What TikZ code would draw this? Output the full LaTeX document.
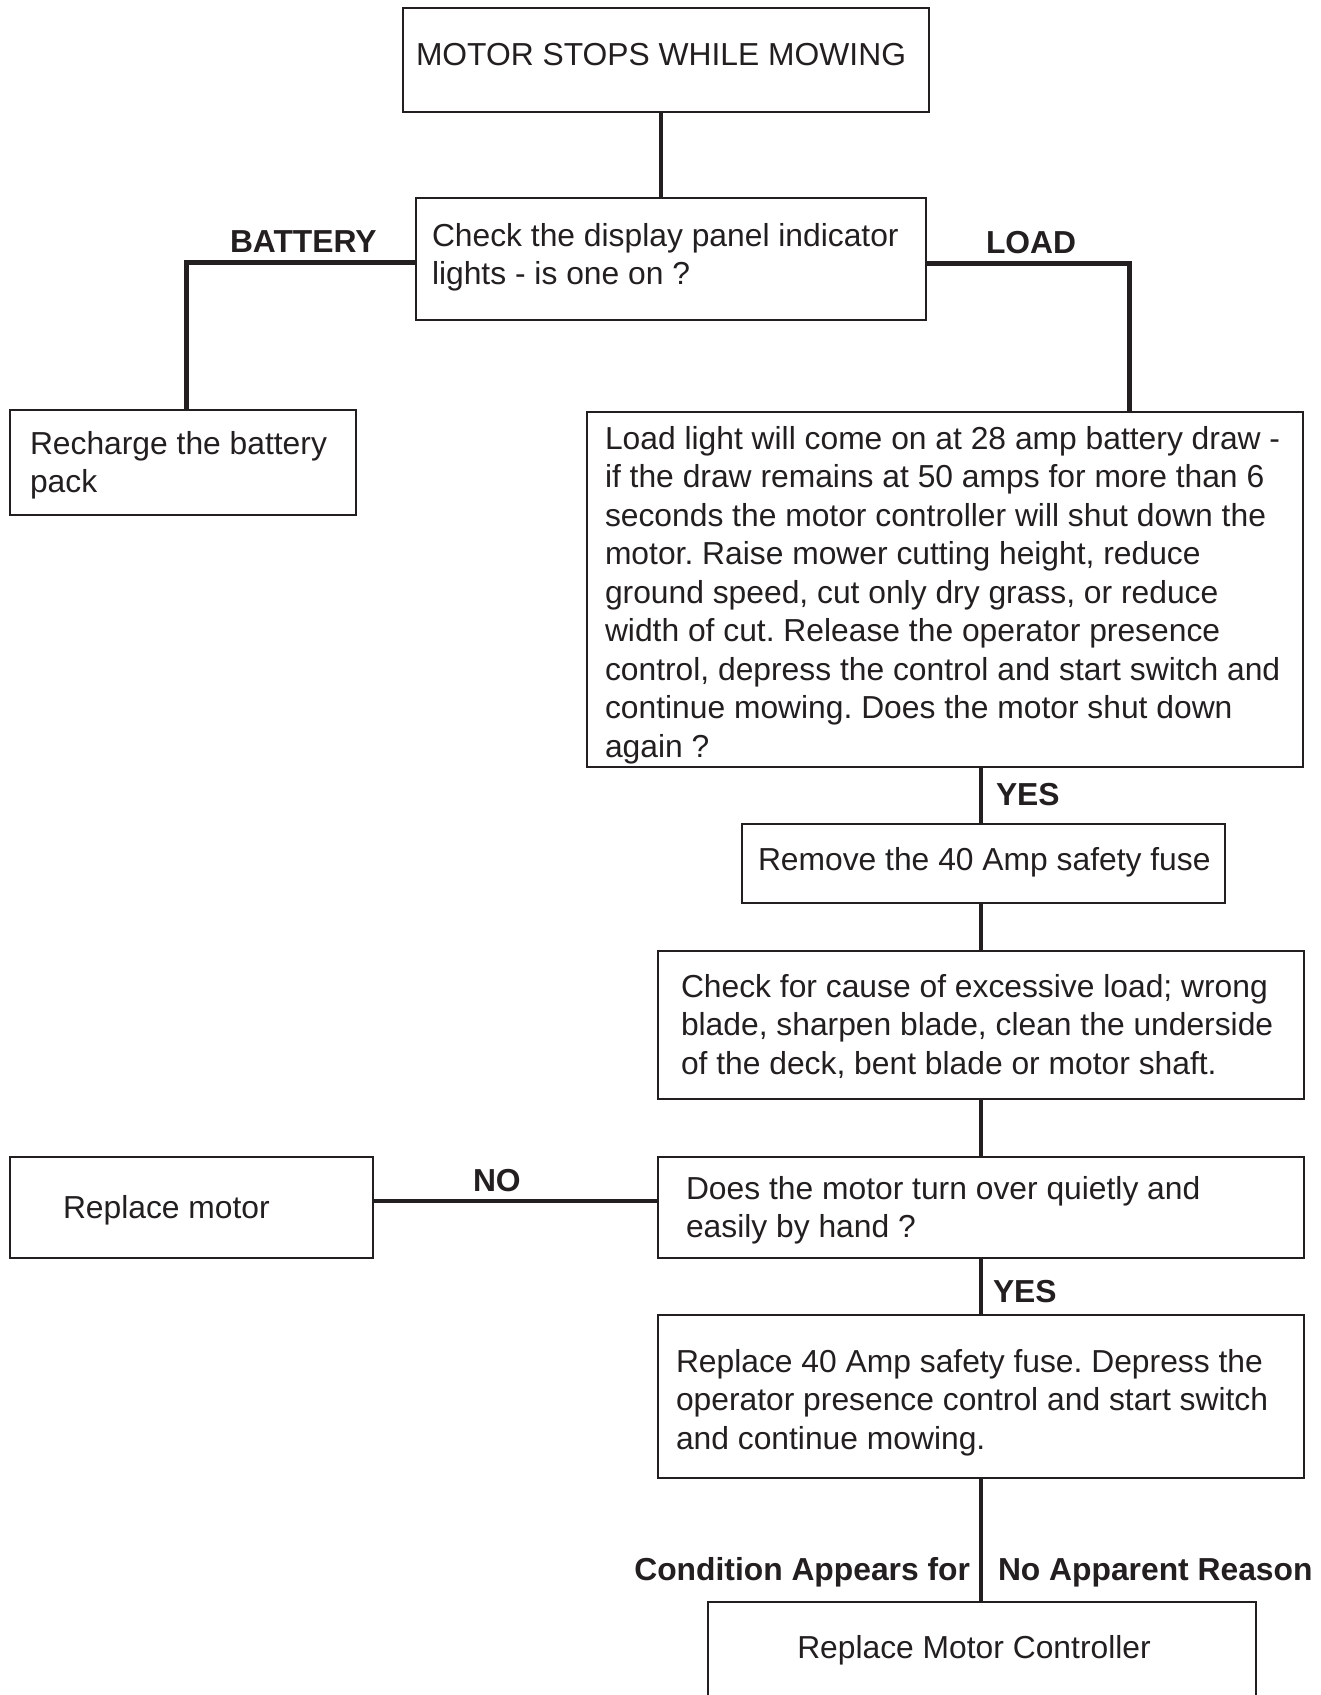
\documentclass[tikz,border=0pt]{standalone}
\usepackage{fontspec}
\setmainfont{Liberation Sans}
\frenchspacing
\newcommand\mlines[1]{\begin{tabular}[t]{@{}l@{}}#1\end{tabular}}
\definecolor{ink}{HTML}{231F20}
\begin{document}
\begin{tikzpicture}[x=1pt,y=-1pt,
  box/.style={draw=ink, line width=2pt, rectangle, inner sep=0pt, outer sep=0pt, anchor=north west},
  txt/.style={anchor=base west, inner sep=0pt, outer sep=0pt, text=ink, font=\frenchspacing\fontsize{31.8}{38.5}\selectfont},
  lbl/.style={anchor=base west, inner sep=0pt, outer sep=0pt, text=ink, font=\bfseries\fontsize{31.8}{38.5}\selectfont},
  link/.style={draw=ink, line width=4pt},
  branch/.style={draw=ink, line width=5pt}]
\useasboundingbox[fill=white] (0,0) rectangle (1321,1695);

% boxes
\node[box, minimum width=526pt, minimum height=104pt] (top) at (403,8) {};
\node[box, minimum width=510pt, minimum height=122pt] (check) at (416,198) {};
\node[box, minimum width=346pt, minimum height=105pt] (recharge) at (10,410) {};
\node[box, minimum width=716pt, minimum height=355pt] (load) at (587,412) {};
\node[box, minimum width=483pt, minimum height=79pt] (remove) at (742,824) {};
\node[box, minimum width=646pt, minimum height=148pt] (cause) at (658,951) {};
\node[box, minimum width=646pt, minimum height=101pt] (turn) at (658,1157) {};
\node[box, minimum width=363pt, minimum height=101pt] (motor) at (10,1157) {};
\node[box, minimum width=646pt, minimum height=163pt] (fuse) at (658,1315) {};
\node[box, minimum width=548pt, minimum height=110pt] (ctrl) at (708,1602) {};

% texts
\node[txt] (ttop) at (416,65) {MOTOR STOPS WHILE MOWING};
\node[txt] (tcheck) at (432,246) {\mlines{Check the display panel indicator\\lights - is one on ?}};
\node[txt] (trecharge) at (30,454) {\mlines{Recharge the battery\\pack}};
\node[txt] (tload) at (605,449) {\mlines{Load light will come on at 28 amp battery draw -\\
if the draw remains at 50 amps for more than 6\\
seconds the motor controller will shut down the\\
motor. Raise mower cutting height, reduce\\
ground speed, cut only dry grass, or reduce\\
width of cut. Release the operator presence\\
control, depress the control and start switch and\\
continue mowing. Does the motor shut down\\
again ?}};
\node[txt] (tremove) at (758,870) {Remove the 40 Amp safety fuse};
\node[txt] (tcause) at (681,997) {\mlines{Check for cause of excessive load; wrong\\
blade, sharpen blade, clean the underside\\
of the deck, bent blade or motor shaft.}};
\node[txt] (tturn) at (686,1199) {\mlines{Does the motor turn over quietly and\\easily by hand ?}};
\node[txt] (tmotor) at (63,1218) {Replace motor};
\node[txt] (tfuse) at (676,1372) {\mlines{Replace 40 Amp safety fuse. Depress the\\
operator presence control and start switch\\
and continue mowing.}};
\node[txt, anchor=base] (tctrl) at (974,1658) {Replace Motor Controller};

% labels
\node[lbl] (lbat) at (230,252) {BATTERY};
\node[lbl] (lload) at (986,253) {LOAD};
\node[lbl] (lno) at (473,1191) {NO};
\node[lbl] (lyes1) at (996,805) {YES};
\node[lbl] (lyes2) at (993,1302) {YES};
\node[lbl, anchor=base east] (lcond) at (970,1580) {Condition Appears for};
\node[lbl] (lreason) at (998,1580) {No Apparent Reason};

% guide coordinates
\coordinate (xA) at (661,0);
\coordinate (xB) at (186,262);
\coordinate (xL) at (1129,263);
\coordinate (xM) at (981,0);
\coordinate (yN) at (0,1201);

% connectors
\draw[link] (top.south -| xA) -- (check.north -| xA);
\draw[branch] (check.west |- xB) -- (xB) -- (recharge.north -| xB);
\draw[branch] (check.east |- xL) -- (xL) -- (load.north -| xL);
\draw[link] (load.south -| xM) -- (remove.north -| xM);
\draw[link] (remove.south -| xM) -- (cause.north -| xM);
\draw[link] (cause.south -| xM) -- (turn.north -| xM);
\draw[branch, line width=4.5pt] (turn.west |- yN) -- (motor.east |- yN);
\draw[link] (turn.south -| xM) -- (fuse.north -| xM);
\draw[link] (fuse.south -| xM) -- (ctrl.north -| xM);
\end{tikzpicture}
\end{document}
